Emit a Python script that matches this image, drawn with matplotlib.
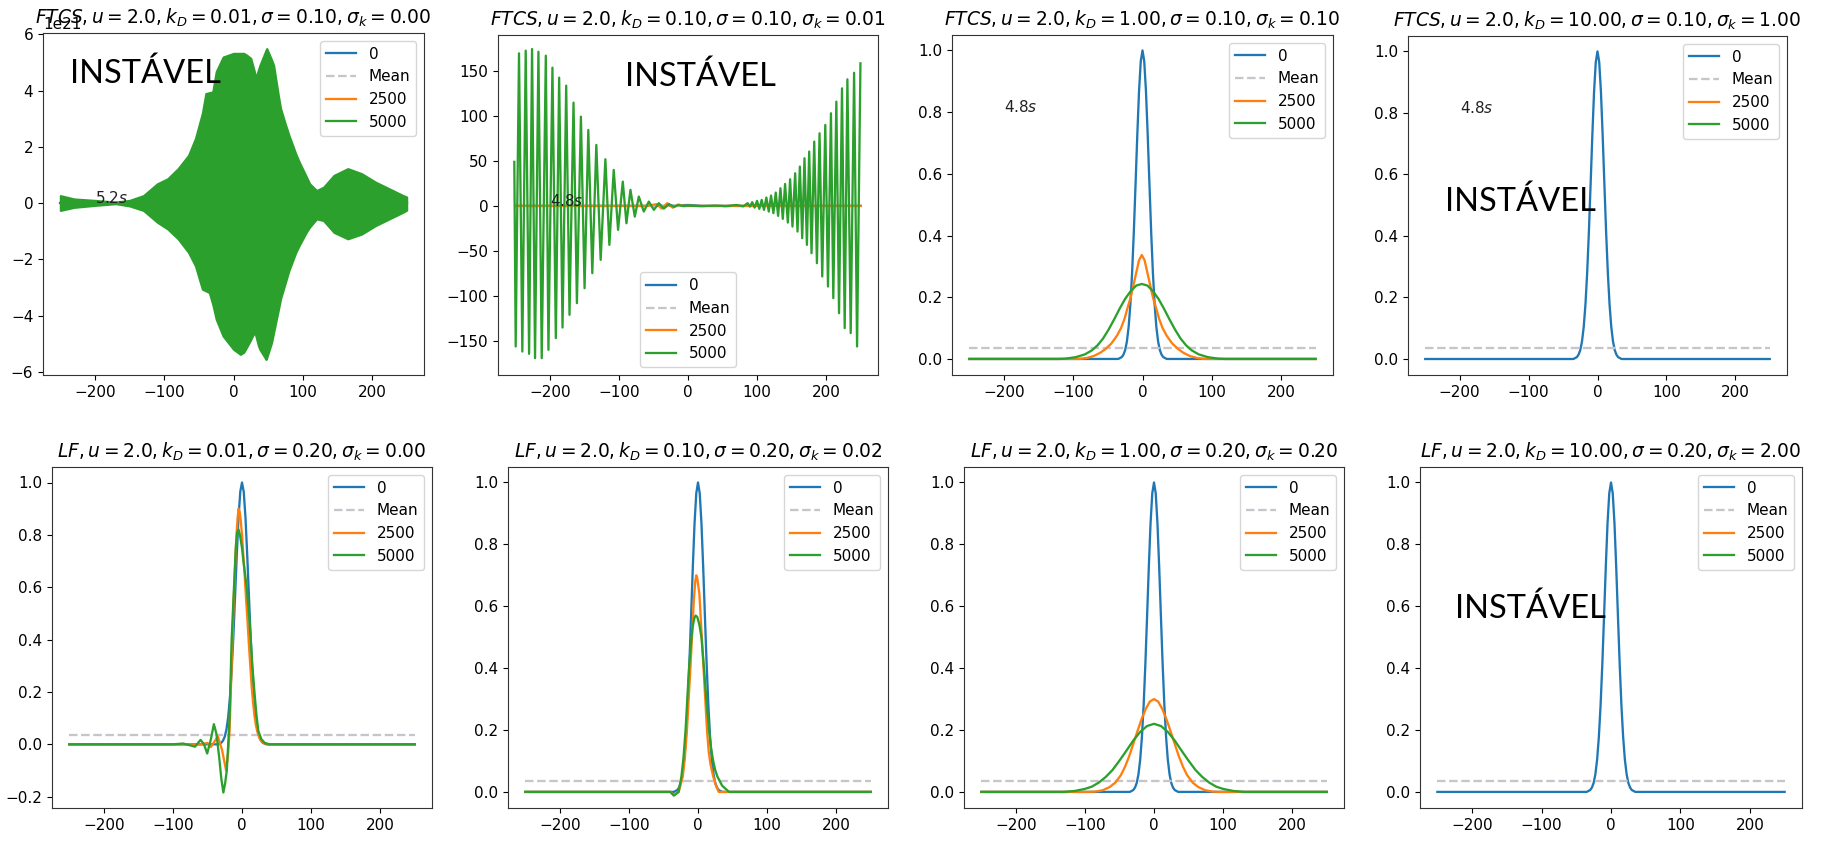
#<-------------------------------------------------- Imports ------------------------------------------------------>
import numpy as np
import matplotlib
matplotlib.use("Agg")
import matplotlib.pyplot as plt

#<--------------------------------------------------- Data -------------------------------------------------------->
# initial pulse (t = 0), same in every panel - half profile, mirrored around x = 0
d_init = [0, 2.5, 5, 7.5, 10, 12.5, 15, 17.5, 20, 22.5, 25, 27.5, 30, 35]
v_init = [1.0, 0.965, 0.868, 0.727, 0.568, 0.413, 0.28, 0.177, 0.104, 0.057, 0.029, 0.014, 0.006, 0.0]
mean_val = 0.036
x_mean = [-250, 250]

# FTCS kD=0.01 (values in 1e21): envelope of the blown-up solution at 5000
x_env1 = [-250, -230, -200, -170, -150, -130, -110, -95, -80, -65, -55, -45, -40, -35, -30, -25,
          -15, 0, 10, 15, 20, 25, 30, 32, 36, 38, 47, 48, 55, 58, 65, 68, 75, 80, 90, 95, 105,
          110, 120, 130, 145, 165, 185, 205, 225, 245, 250]
hi_env1 = [0.27, 0.15, 0.10, 0.04, 0.10, 0.27, 0.69, 0.87, 1.23, 1.70, 2.30, 3.20, 3.90, 3.93, 3.96,
           4.68, 5.20, 5.33, 5.33, 5.33, 5.25, 5.15, 4.70, 4.44, 4.75, 4.90, 5.45, 5.50, 5.10, 4.90,
           3.80, 3.37, 2.80, 2.42, 1.75, 1.46, 0.95, 0.69, 0.45, 0.57, 0.99, 1.23, 1.05, 0.75, 0.51,
           0.27, 0.22]
lo_env1 = [-0.26, -0.15, -0.08, -0.02, -0.10, -0.26, -0.68, -0.92, -1.27, -1.75, -2.23, -3.06, -3.12,
           -3.18, -3.60, -4.13, -4.73, -5.20, -5.38, -5.30, -5.08, -4.85, -4.60, -4.70, -5.08, -5.20,
           -5.56, -5.50, -4.96, -4.60, -3.77, -3.40, -2.82, -2.40, -1.75, -1.50, -1.04, -0.85, -0.56,
           -0.62, -1.04, -1.27, -1.10, -0.80, -0.56, -0.32, -0.25]

# FTCS kD=0.10: oscillating solution at 5000, crest and trough positions
x_top2 = [-251.4, -244.6, -234.9, -225.7, -216.5, -205.8, -196.2, -186.5, -176.3, -165.7, -155.0,
          -144.3, -132.7, -119.6, -107.5, -94.4, -83.3, -71.2, -56.7, -42.2, -27.6, -14, 0, 40, 70,
          86.3, 93.0, 99.9, 106.7, 113.4, 120.2, 127.0, 133.8, 140.5, 147.8, 155.1, 161.9, 168.6,
          175.4, 182.7, 190.4, 198.7, 206.9, 214.7, 222.9, 230.7, 240.4, 249.6]
y_top2 = [49, 169.6, 172.6, 174.4, 171.4, 167, 153.7, 142.6, 133.7, 114.8, 99.2, 84.4, 67.8, 51.9, 40,
          27, 17.8, 10.4, 4.8, 3, 2, 1, 0.3, 0.3, 1, 3, 4.1, 5.6, 6.7, 9.3, 11.5, 14.8, 19.6, 24.4,
          29.6, 36.3, 43.7, 53, 60.4, 71.5, 80.7, 90, 103, 115.9, 130.7, 140.7, 148, 158.5]
x_bot2 = [-249.4, -239.8, -230.0, -221.4, -211.7, -202.0, -191.3, -181.6, -171.5, -160.8, -149.7,
          -138.5, -126.4, -113.8, -101.2, -89.1, -77.0, -64.0, -49.4, -35, -20, -7, 20, 55, 80,
          89.7, 96.5, 103.2, 110.0, 116.9, 123.6, 130.4, 137.2, 144.5, 151.2, 158.5, 165.3, 172.1,
          178.8, 186.6, 194.3, 202.6, 210.3, 218.6, 226.8, 235.5, 244.7]
y_bot2 = [-156.3, -161.9, -164.4, -169.3, -169.3, -160, -147, -135.2, -121.1, -108.1, -91.5, -74.8,
          -60, -43.3, -26.7, -19.3, -11.9, -6.3, -4.4, -3, -1, -0.3, -0.3, -0.3, -0.5, -0.7, -1.9,
          -3.3, -4.4, -6.3, -8.1, -11.1, -14.4, -18.5, -23, -28.5, -35.9, -43.3, -52.6, -63.7, -78.5,
          -89.6, -102.6, -119.3, -135.9, -141.4, -156.3]
x_or2 = [-250, -60, -45, -38, -30, -22, -14, -6, 250]
y_or2 = [0, 0, 2, -3, 3, -2, 1.5, 0, 0]

# FTCS kD=1.00 - half profiles (distance from peak, value)
c_or3 = -1
d_or3 = [0, 4, 8, 12, 16, 20, 25, 30, 36, 44, 52, 60, 70, 80, 90]
v_or3 = [0.337, 0.32, 0.28, 0.24, 0.20, 0.17, 0.13, 0.10, 0.075, 0.05, 0.033, 0.02, 0.009, 0.003, 0.0]
c_gr3 = -1
d_gr3 = [0, 8, 16, 24, 32, 40, 48, 56, 64, 72, 82, 95, 110, 120]
v_gr3 = [0.243, 0.238, 0.22, 0.195, 0.163, 0.128, 0.095, 0.066, 0.044, 0.028, 0.015, 0.006, 0.001, 0.0]

# LF kD=0.01
x_or5 = [-250, -60, -50, -45, -40, -35, -29, -23, -20, -18, -15, -12, -10, -8, -6.5, -5, -3.5, -2, 0,
         2, 4, 6, 8, 10, 12, 14, 16, 18, 20, 22, 25, 28, 32, 38, 250]
y_or5 = [0, 0, 0.005, -0.01, 0.01, 0.03, -0.02, -0.10, -0.03, 0.05, 0.30, 0.55, 0.68, 0.80, 0.86, 0.90,
         0.89, 0.86, 0.80, 0.72, 0.64, 0.55, 0.47, 0.38, 0.30, 0.22, 0.16, 0.11, 0.075, 0.05, 0.025,
         0.012, 0.004, 0, 0]
x_gr5 = [-250, -100, -85, -75, -68, -60, -55, -50.4, -45, -40.7, -37, -33, -30, -27, -24.5, -22, -20,
         -18, -15, -11.6, -9, -7, -5, -3, 0, 2, 4, 6.8, 10, 12.6, 15, 18, 21, 23.7, 28, 33, 40, 250]
y_gr5 = [0, 0, 0.003, -0.004, -0.009, 0.017, 0.0, -0.035, 0.02, 0.077, 0.04, -0.05, -0.13, -0.184,
         -0.15, -0.10, 0.0, 0.10, 0.40, 0.60, 0.75, 0.81, 0.82, 0.80, 0.75, 0.70, 0.66, 0.60, 0.50,
         0.40, 0.30, 0.20, 0.11, 0.05, 0.02, 0.005, 0, 0]

# LF kD=0.10
x_or6 = [-250, -40, -35, -28, -22, -19, -16, -13.5, -11, -8.5, -6, -4, -2.4, -1, 2, 5, 8, 10.5, 13,
         15.5, 18, 22, 26, 30, 250]
y_or6 = [0, 0, -0.01, 0.0, 0.05, 0.11, 0.20, 0.30, 0.40, 0.51, 0.62, 0.68, 0.70, 0.69, 0.64, 0.52,
         0.40, 0.30, 0.20, 0.13, 0.09, 0.05, 0.02, 0, 0]
x_gr6 = [-250, -40, -35, -28, -24, -21, -18, -15.5, -13, -10.5, -8, -5.5, -3.4, -1, 2, 5, 8.7, 12, 16,
         19, 22, 25, 28, 35, 45, 250]
y_gr6 = [0, 0, -0.012, 0.0, 0.05, 0.11, 0.20, 0.30, 0.40, 0.47, 0.53, 0.56, 0.57, 0.565, 0.54, 0.50,
         0.40, 0.30, 0.20, 0.14, 0.10, 0.07, 0.05, 0.02, 0, 0]

# LF kD=1.00 - half profiles
c_or7 = 0
d_or7 = [0, 6, 12, 18, 24, 30, 36, 42, 48, 56, 64, 74, 85, 95]
v_or7 = [0.30, 0.292, 0.268, 0.235, 0.196, 0.155, 0.115, 0.081, 0.054, 0.03, 0.016, 0.0054, 0.001, 0.0]
c_gr7 = 0
d_gr7 = [0, 10, 20, 30, 40, 50, 60, 70, 80, 90, 100, 115, 130]
v_gr7 = [0.22, 0.213, 0.194, 0.166, 0.133, 0.101, 0.071, 0.048, 0.030, 0.017, 0.0097, 0.003, 0.0]

titles = [r"$FTCS, u = 2.0, k_D = 0.01, \sigma = 0.10, \sigma_k = 0.00$",
          r"$FTCS, u = 2.0, k_D = 0.10, \sigma = 0.10, \sigma_k = 0.01$",
          r"$FTCS, u = 2.0, k_D = 1.00, \sigma = 0.10, \sigma_k = 0.10$",
          r"$FTCS, u = 2.0, k_D = 10.00, \sigma = 0.10, \sigma_k = 1.00$",
          r"$LF, u = 2.0, k_D = 0.01, \sigma = 0.20, \sigma_k = 0.00$",
          r"$LF, u = 2.0, k_D = 0.10, \sigma = 0.20, \sigma_k = 0.02$",
          r"$LF, u = 2.0, k_D = 1.00, \sigma = 0.20, \sigma_k = 0.20$",
          r"$LF, u = 2.0, k_D = 10.00, \sigma = 0.20, \sigma_k = 2.00$"]
run_times = ["5.2", "4.8", "4.8", "4.8", None, None, None, None]


def mirror(center, d, v):
    # symmetric profile from a half profile, padded to the domain ends
    d = np.asarray(d, float)
    v = np.asarray(v, float)
    x = np.concatenate([[-250], center - d[::-1], center + d[1:], [250]])
    y = np.concatenate([[0], v[::-1], v[1:], [0]])
    return x, y


x_init, y_init = mirror(0, d_init, v_init)

#<-------------------------------------------------- Figure ------------------------------------------------------->
W, H = 1821, 843
fig = plt.figure(figsize=(W / 100, H / 100), dpi=100)
plt.rcParams["lines.linewidth"] = 1.65

# axes boxes in pixels: left, top, right, bottom
boxes = [(43, 33, 424, 375), (498, 35, 878, 375), (952, 35, 1333, 375), (1408, 36, 1787, 375),
         (52, 467, 432, 808), (508, 467, 888, 808), (964, 467, 1344, 808), (1420, 467, 1802, 808)]

axs = []
for (l, t, r, b) in boxes:
    axs.append(fig.add_axes([l / W, 1 - b / H, (r - l) / W, (b - t) / H]))

C0, C1, C2, CM = "#1f77b4", "#ff7f0e", "#2ca02c", "#c9c4cc"
nan_x, nan_y = [np.nan], [np.nan]
LEG = 11


def base_lines(ax, or_x, or_y, gr_x, gr_y):
    ax.plot(x_init, y_init, color=C0, label="0")
    ax.plot(x_mean, [mean_val] * 2, "--", color=CM, label="Mean")
    ax.plot(or_x, or_y, color=C1, label="2500")
    ax.plot(gr_x, gr_y, color=C2, label="5000")


# panel 1 - FTCS kD 0.01 (blows up)
ax = axs[0]
ax.plot(x_init, y_init, color=C0, label="0")
ax.plot(x_mean, [mean_val] * 2, "--", color=CM, label="Mean")
ax.plot(nan_x, nan_y, color=C1, label="2500")
ax.fill_between(np.array(x_env1), np.array(lo_env1) * 1e21, np.array(hi_env1) * 1e21,
                color=C2, lw=1.5, zorder=3)
ax.plot(nan_x, nan_y, color=C2, label="5000")
ax.legend(loc="upper right", fontsize=LEG)

# panel 2 - FTCS kD 0.10 (oscillating)
ax = axs[1]
xs = np.array(x_top2 + x_bot2)
ys = np.array(y_top2 + y_bot2)
order = np.argsort(xs)
base_lines(ax, x_or2, y_or2, xs[order], ys[order])
ax.legend(loc="lower center", fontsize=LEG)

# panel 3, 4
x_o, y_o = mirror(c_or3, d_or3, v_or3)
x_g, y_g = mirror(c_gr3, d_gr3, v_gr3)
base_lines(axs[2], x_o, y_o, x_g, y_g)
base_lines(axs[3], nan_x, nan_y, nan_x, nan_y)

# bottom row - LF
base_lines(axs[4], x_or5, y_or5, x_gr5, y_gr5)
base_lines(axs[5], x_or6, y_or6, x_gr6, y_gr6)
x_o, y_o = mirror(c_or7, d_or7, v_or7)
x_g, y_g = mirror(c_gr7, d_gr7, v_gr7)
base_lines(axs[6], x_o, y_o, x_g, y_g)
base_lines(axs[7], nan_x, nan_y, nan_x, nan_y)
for ax in axs[2:]:
    ax.legend(loc="upper right", fontsize=LEG)

for i, ax in enumerate(axs):
    ax.set_title(titles[i], fontsize=13.4, y=1.0, pad=7)
    ax.set_xlim(-275, 275)
    ax.tick_params(labelsize=11)
    ax.yaxis.get_offset_text().set_fontsize(11)
    for s in ax.spines.values():
        s.set_color("#333333")
    if run_times[i] is not None:
        yy = 0.8 if i >= 2 else 0.0
        ax.text(-200, yy, run_times[i] + "$s$", fontsize=11, color="#222222", zorder=4)

axs[1].set_ylim(-188, 190)
for ax in axs[2:4] + axs[5:]:
    ax.set_ylim(-0.052, 1.05)
    ax.set_yticks([0.0, 0.2, 0.4, 0.6, 0.8, 1.0])

# "INSTÁVEL" notes placed over the unstable runs (pixels: left, baseline)
notes = [(70, 83), (625, 86), (1445, 211), (1455, 618)]
for (nx, ny) in notes:
    fig.text(nx / W, 1 - ny / H, "INSTÁVEL", fontsize=23.5, family="Lato", va="baseline", color="black")

fig.savefig("out.png", dpi=100)
